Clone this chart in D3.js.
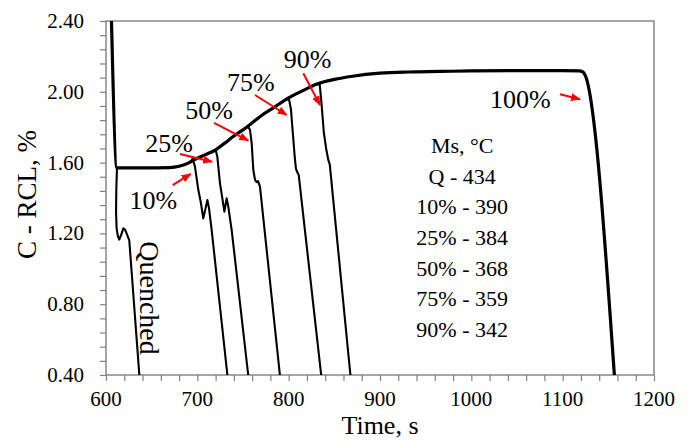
<!DOCTYPE html>
<html>
<head>
<meta charset="utf-8">
<script src="https://cdn.jsdelivr.net/npm/d3@7"></script>
<style>
    body { margin: 0; background: #fff; }
    svg { display: block; }
    text { font-family: 'Liberation Serif', 'DejaVu Serif', serif; fill: #000; }
</style>
</head>
<body>
<svg id="chart" width="688" height="440"></svg>
<script>

/*
*       Data
*/

// Axis ticks
var xTickValues = [600, 700, 800, 900, 1000, 1100, 1200];
var yTickValues = [0.40, 0.80, 1.20, 1.60, 2.00, 2.40];

// Common curve: fast cooling, holding, carbon build-up, then the 100% curve drop
var mainTime  = [606, 612, 640, 670, 680, 690, 700, 710, 720, 730, 740, 754, 770, 785, 798, 815, 831, 850, 870, 900, 930, 966, 1000, 1050, 1100, 1118, 1122, 1124.5, 1156.6];
var mainValue = [2.40, 1.57, 1.57, 1.572, 1.579, 1.597, 1.625, 1.647, 1.672, 1.71, 1.75, 1.80, 1.865, 1.915, 1.96, 2.005, 2.044, 2.07, 2.088, 2.105, 2.112, 2.115, 2.118, 2.12, 2.12, 2.118, 2.112, 2.095, 0.40];

// Branches leaving the common curve [time, value]
var quenched = [[612, 1.57], [611.3, 1.45], [611, 1.32], [611.6, 1.23], [613, 1.185], [614.5, 1.165], [616.5, 1.19], [619, 1.228], [621, 1.22], [623, 1.195], [625.5, 1.16], [636.5, 0.40]];
var branch10 = [[693.8, 1.624], [695.5, 1.61], [697.4, 1.577], [701.1, 1.445], [704, 1.37], [706.5, 1.285], [708.5, 1.33], [711, 1.389], [712.8, 1.342], [715.7, 1.219], [732.9, 0.40]];
var branch25 = [[720.1, 1.671], [721.9, 1.633], [724.8, 1.483], [727.4, 1.398], [729.6, 1.323], [732.1, 1.398], [733.9, 1.351], [737.6, 1.219], [755.7, 0.40]];
var branch50 = [[754, 1.80], [756, 1.80], [757.7, 1.784], [759.5, 1.709], [761.3, 1.558], [763.2, 1.502], [765, 1.49], [766.5, 1.495], [768.6, 1.464], [790.4, 0.40]];
var branch75 = [[797.8, 1.958], [800.5, 1.955], [802.5, 1.90], [804.5, 1.77], [806.5, 1.64], [808, 1.565], [809.5, 1.545], [811, 1.53], [835.6, 0.40]];
var branch90 = [[830.7, 2.044], [834, 2.04], [836, 1.93], [838.5, 1.77], [841, 1.68], [843.4, 1.615], [845, 1.59], [867.6, 0.40]];

// Percent labels and the red arrows pointing at their curves
var labelText  = ['10%', '25%', '50%', '75%', '90%', '100%'];
var labelTime  = [651.8, 669, 713, 758.6, 820.6, 1053.6];
var labelValue = [1.336, 1.66, 1.846, 2.002, 2.134, 1.908];
var arrowFrom  = [[673, 1.473], [681, 1.649], [718.3, 1.825], [763.1, 1.982], [816, 2.105], [1097.1, 1.986]];
var arrowTo    = [[692.7, 1.536], [716.1, 1.605], [755.8, 1.724], [797.8, 1.869], [834.3, 1.925], [1119, 1.958]];

// Ms table
var msLines = ['Ms, \u00B0C', 'Q - 434', '10% - 390', '25% - 384', '50% - 368', '75% - 359', '90% - 342'];
var msAnchor = [990, 1.653];

/*
*       Layout
*/

var margin = { top: 21, right: 34, bottom: 65, left: 106 };
var width = 688 - margin.left - margin.right;
var height = 440 - margin.top - margin.bottom;

var svg = d3.select('#chart');
var g = svg.append('g').attr('transform', 'translate(' + margin.left + ',' + margin.top + ')');

var x = d3.scaleLinear().domain([600, 1200]).range([0, width]);
var y = d3.scaleLinear().domain([0.40, 2.40]).range([height, 0]);

var axisColor = '#808080';

/*
*       Axes
*/

// Minor ticks every 20 s and every 0.08 %
var xMinor = d3.range(600, 1200.1, 20);
var yMinor = d3.range(0, 26).map(function(i){ return 0.40 + i * 0.08; });

var xAxis = g.append('g')
    .attr('transform', 'translate(0,' + height + ')')
    .call(d3.axisBottom(x).tickValues(xMinor).tickSize(6).tickFormat(''));
var yAxis = g.append('g')
    .call(d3.axisLeft(y).tickValues(yMinor).tickSize(6).tickFormat(''));

[xAxis, yAxis].forEach(function(a){
    a.select('.domain').remove();
    a.selectAll('line').attr('stroke', axisColor).attr('stroke-width', 1.2);
});

// Frame of the plot area
g.append('rect')
    .attr('width', width)
    .attr('height', height)
    .attr('fill', 'none')
    .attr('stroke', axisColor)
    .attr('stroke-width', 1.4);

// Tick labels
g.selectAll('.xlab').data(xTickValues).enter().append('text')
    .attr('class', 'xlab')
    .attr('x', function(d){ return x(d); })
    .attr('y', height + 31)
    .attr('text-anchor', 'middle')
    .style('font-size', '21px')
    .text(function(d){ return d; });

g.selectAll('.ylab').data(yTickValues).enter().append('text')
    .attr('class', 'ylab')
    .attr('x', -22)
    .attr('y', function(d){ return y(d) + 7; })
    .attr('text-anchor', 'end')
    .style('font-size', '21px')
    .text(function(d){ return d.toFixed(2); });

// Axis titles
svg.append('text')
    .attr('x', margin.left + x(900))
    .attr('y', 434)
    .attr('text-anchor', 'middle')
    .style('font-size', '26px')
    .text('Time, s');

svg.append('text')
    .attr('transform', 'translate(36,' + (margin.top + y(1.42)) + ') rotate(-90)')
    .attr('text-anchor', 'middle')
    .style('font-size', '27px')
    .text('C - RCL, %');

/*
*       Curves
*/

var plot = g.append('g');

var mainLine = d3.line()
    .x(function(d, i){ return x(mainTime[i]); })
    .y(function(d, i){ return y(mainValue[i]); })
    .curve(d3.curveMonotoneX);

var branchLine = d3.line()
    .x(function(d){ return x(d[0]); })
    .y(function(d){ return y(d[1]); });

[quenched, branch10, branch25, branch50, branch75, branch90].forEach(function(b){
    plot.append('path')
        .attr('d', branchLine(b))
        .attr('fill', 'none')
        .attr('stroke', '#000')
        .attr('stroke-width', 2.1)
        .attr('stroke-linejoin', 'round');
});

plot.append('path')
    .attr('d', mainLine(mainTime))
    .attr('fill', 'none')
    .attr('stroke', '#000')
    .attr('stroke-width', 3.2)
    .attr('stroke-linejoin', 'round');

/*
*       Annotations
*/

svg.append('defs').append('marker')
    .attr('id', 'head')
    .attr('markerUnits', 'userSpaceOnUse')
    .attr('markerWidth', 10)
    .attr('markerHeight', 8)
    .attr('refX', 9)
    .attr('refY', 4)
    .attr('orient', 'auto')
  .append('path')
    .attr('d', 'M0,0 L10,4 L0,8 Z')
    .attr('fill', '#ff0000');

labelText.forEach(function(t, i){
    g.append('text')
        .attr('x', x(labelTime[i]))
        .attr('y', y(labelValue[i]))
        .attr('text-anchor', 'middle')
        .style('font-size', '26px')
        .text(t);

    g.append('line')
        .attr('x1', x(arrowFrom[i][0]))
        .attr('y1', y(arrowFrom[i][1]))
        .attr('x2', x(arrowTo[i][0]))
        .attr('y2', y(arrowTo[i][1]))
        .attr('stroke', '#ff0000')
        .attr('stroke-width', 2)
        .attr('marker-end', 'url(#head)');
});

// Rotated label for the quenched curve
g.append('text')
    .attr('transform', 'translate(' + (x(637.2)) + ',' + y(0.835) + ') rotate(90)')
    .attr('text-anchor', 'middle')
    .style('font-size', '28px')
    .text('Quenched');

// Ms table, one line under the other
var ms = g.append('text')
    .attr('x', x(msAnchor[0]))
    .attr('y', y(msAnchor[1]))
    .attr('text-anchor', 'middle')
    .style('font-size', '22px');

ms.selectAll('tspan').data(msLines).enter().append('tspan')
    .attr('x', x(msAnchor[0]))
    .attr('dy', function(d, i){ return i === 0 ? 0 : '1.39em'; })
    .text(function(d){ return d; });

</script>
</body>
</html>
